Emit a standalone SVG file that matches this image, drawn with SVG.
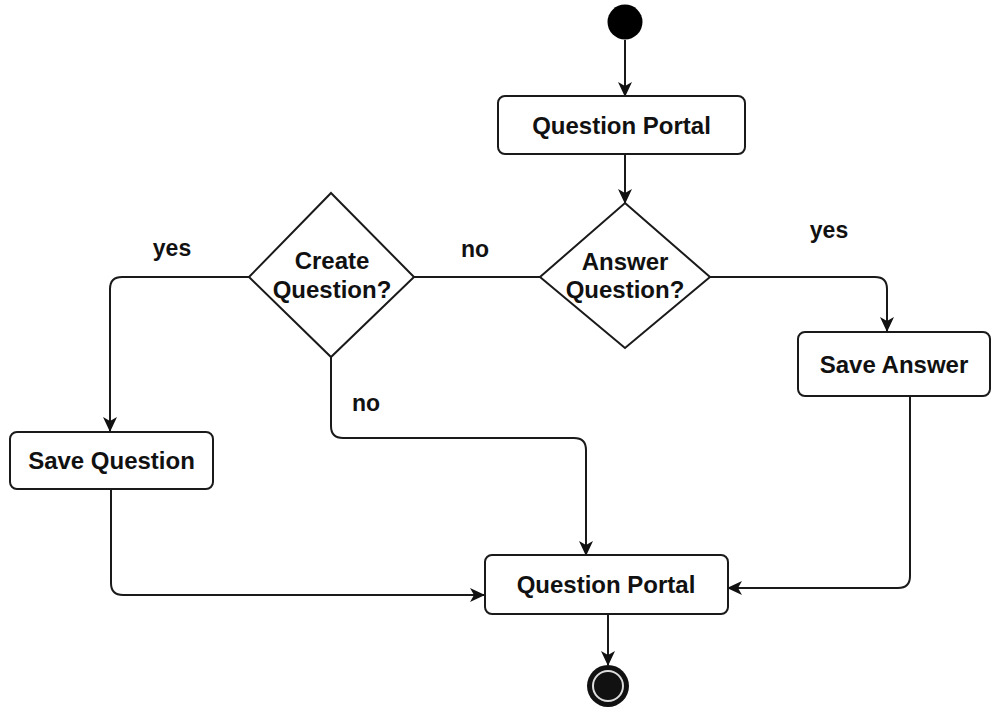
<svg xmlns="http://www.w3.org/2000/svg" width="992" height="709" viewBox="0 0 992 709">
<defs>
<style>
.node{fill:#fff;stroke:#1a1a1a;stroke-width:2}
.t{font-family:"Liberation Sans",Arial,sans-serif;font-weight:bold;font-size:24px;fill:#111;text-anchor:middle}
.l{font-size:23px}
.c{fill:none;stroke:#1a1a1a;stroke-width:2}
.a{marker-end:url(#arr)}
</style>
<marker id="arr" viewBox="0 0 15 14" refX="14" refY="7" markerWidth="15" markerHeight="14" markerUnits="userSpaceOnUse" orient="auto">
<path d="M0,0 L15,7 L0,14 L4,7 z" fill="#111"/>
</marker>
</defs>
<rect width="992" height="709" fill="#fff"/>
<g id="connectors">
<path class="c a" d="M625,40 V96"/>
<path class="c a" d="M625,154 V203"/>
<path class="c" d="M414,277 H540"/>
<path class="c a" d="M249,277 H122 Q110,277 110,289 V431"/>
<path class="c a" d="M331,357 V426 Q331,438 343,438 H574 Q586,438 586,450 V555"/>
<path class="c a" d="M710,277 H875 Q887,277 887,289 V331"/>
<path class="c a" d="M111,489 V583 Q111,595 123,595 H484"/>
<path class="c a" d="M910,396 V576 Q910,588 898,588 H728"/>
<path class="c a" d="M608,614 V665"/>
<text class="t l" x="172" y="256">yes</text>
<text class="t l" x="475" y="257">no</text>
<text class="t l" x="829" y="238">yes</text>
<text class="t l" x="366" y="411">no</text>
</g>
<g id="start"><circle cx="625" cy="22" r="17.5" fill="#000"/></g>
<g id="portal1">
<rect class="node" x="498" y="96" width="247" height="58" rx="7"/>
<text class="t" x="621.5" y="134">Question Portal</text>
</g>
<g id="createQ">
<polygon class="node" points="331,193 414,277 331,357 249,277"/>
<text class="t" x="332" y="269">Create</text>
<text class="t" x="332" y="298">Question?</text>
</g>
<g id="answerQ">
<polygon class="node" points="625,203 710,277 625,348 540,277"/>
<text class="t" x="625" y="270">Answer</text>
<text class="t" x="625" y="298">Question?</text>
</g>
<g id="saveQuestion">
<rect class="node" x="10" y="432" width="203" height="57" rx="7"/>
<text class="t" x="111.5" y="469">Save Question</text>
</g>
<g id="saveAnswer">
<rect class="node" x="798" y="332" width="192" height="64" rx="7"/>
<text class="t" x="894" y="373">Save Answer</text>
</g>
<g id="portal2">
<rect class="node" x="485" y="555" width="243" height="59" rx="7"/>
<text class="t" x="606" y="593">Question Portal</text>
</g>
<g id="end">
<circle cx="608" cy="686" r="21" fill="#111"/>
<circle cx="608" cy="686" r="15" fill="none" stroke="#ddd" stroke-width="2"/>
</g>
</svg>
